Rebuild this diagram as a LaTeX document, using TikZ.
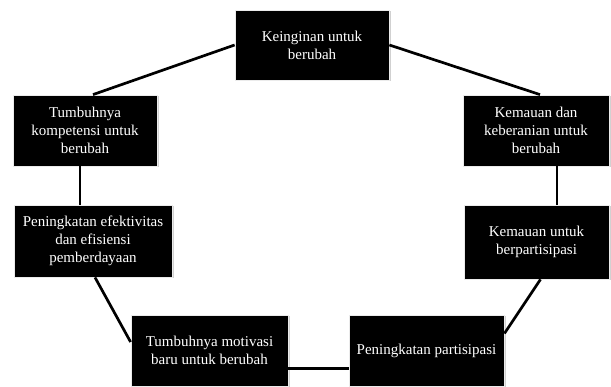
\documentclass[tikz,border=0pt]{standalone}
\usepackage{fontspec}
\setmainfont{Liberation Serif}
\usepackage{tikz}
\usetikzlibrary{shadows}

\begin{document}
\begin{tikzpicture}[
    x=1pt, y=-1pt,
    every node/.style={font=\fontsize{15}{18}\selectfont},
    box/.style={
        draw=cEdge, line width=0.8pt, fill=black, text=white,
        align=center, inner sep=2pt,
        drop shadow={shadow xshift=1.5pt, shadow yshift=-1.5pt,
                     fill=black!30, opacity=0.6}
    },
    link/.style={draw=black, line width=2.7pt}
]
\definecolor{cEdge}{RGB}{235,235,235}

\useasboundingbox (0,0) rectangle (611,387);

% Boxes
\node[box, minimum width=154pt, minimum height=70pt] (keinginan) at (312,45)
    {Keinginan untuk\\berubah};
\node[box, minimum width=144pt, minimum height=71pt] (kompetensi) at (85,130.5)
    {Tumbuhnya\\kompetensi untuk\\berubah};
\node[box, minimum width=146pt, minimum height=71pt] (keberanian) at (536,130.5)
    {Kemauan dan\\keberanian untuk\\berubah};
\node[box, minimum width=158pt, minimum height=72pt] (efektivitas) at (93,241)
    {Peningkatan efektivitas\\dan efisiensi\\pemberdayaan};
\node[box, minimum width=145pt, minimum height=74pt] (kemauan) at (536.5,242)
    {Kemauan untuk\\berpartisipasi};
\node[box, minimum width=157pt, minimum height=71pt] (motivasi) at (209.5,350.5)
    {Tumbuhnya motivasi\\baru untuk berubah};
\node[box, minimum width=155pt, minimum height=71pt] (partisipasi) at (426.5,350.5)
    {Peningkatan partisipasi};

% Edges
\draw[link] ([xshift=8pt]kompetensi.north) -- (keinginan.west);
\draw[link] (keinginan.east) -- ([xshift=4pt]keberanian.north);
\draw[link] ([xshift=-5pt]kompetensi.south) -- ([xshift=-13pt]efektivitas.north);
\draw[link] ([xshift=21pt]keberanian.south) -- ([xshift=20.5pt]kemauan.north);
\draw[link] ([xshift=2pt]efektivitas.south) -- ([yshift=8.5pt]motivasi.west);
\draw[link] ([yshift=-18pt]motivasi.east) -- ([yshift=-18pt]partisipasi.west);
\draw[link] ([yshift=17pt]partisipasi.east) -- ([xshift=4pt]kemauan.south);

\end{tikzpicture}
\end{document}
